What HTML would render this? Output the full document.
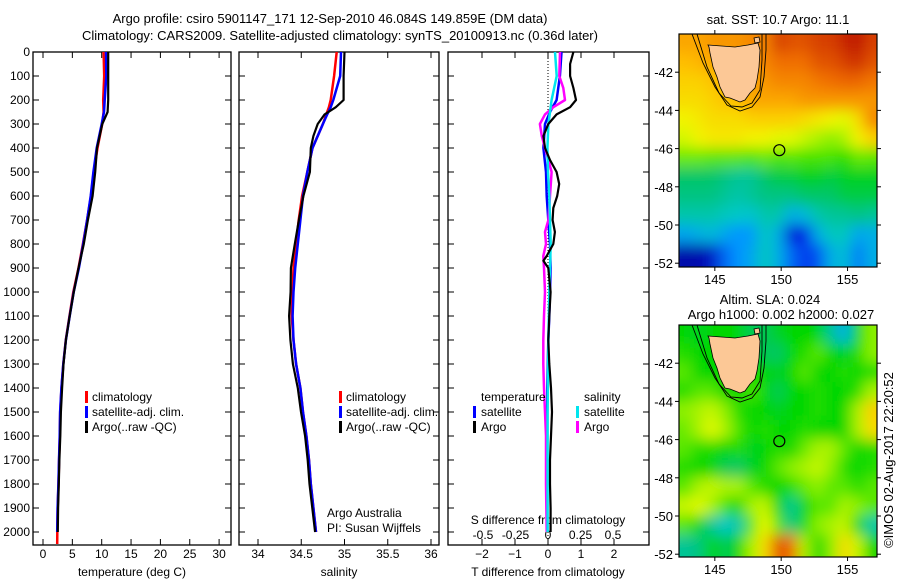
<!DOCTYPE html>
<html><head><meta charset="utf-8"><style>
html,body{margin:0;padding:0;background:#fff;width:900px;height:580px;overflow:hidden}
svg{display:block;font-family:"Liberation Sans",sans-serif;overflow:hidden}
</style></head><body>
<svg id="c" width="900" height="580" viewBox="0 0 900 580" xmlns="http://www.w3.org/2000/svg">
<defs>
<filter id="bl" filterUnits="userSpaceOnUse" x="640" y="0" width="260" height="580"><feGaussianBlur stdDeviation="7"/></filter>
<clipPath id="cm1"><rect x="679" y="34" width="198" height="233"/></clipPath>
<clipPath id="cm2"><rect x="679" y="325" width="198" height="232"/></clipPath>
</defs>
<text x="330" y="23" font-size="13" text-anchor="middle">Argo profile: csiro 5901147_171 12-Sep-2010 46.084S 149.859E (DM data)</text>
<text x="340" y="40" font-size="13" text-anchor="middle">Climatology: CARS2009. Satellite-adjusted climatology: synTS_20100913.nc (0.36d later)</text>
<g id="g"></g>
</svg>
<script>
// ---------- data ----------
const depthTicks=[0,100,200,300,400,500,600,700,800,900,1000,1100,1200,1300,1400,1500,1600,1700,1800,1900,2000];
const tempTicks=[0,5,10,15,20,25,30];
const salTicks=[34,34.5,35,35.5,36];
const salTickLabels=["34","34.5","35","35.5","36"];
const tdTicks=[-2,-1,0,1,2];
const sdTicks=[-0.5,-0.25,0,0.25,0.5];
const sdTickLabels=["-0.5","-0.25","0","0.25","0.5"];

const tDepth=[0,100,200,250,300,400,500,600,700,800,900,1000,1100,1200,1300,1400,1500,1600,1700,1800,1900,2000];
const tArgo=[11.1,11.1,11.1,11.0,10.1,9.2,8.9,8.45,7.65,6.95,6.05,5.25,4.55,3.9,3.5,3.25,3.05,2.95,2.8,2.7,2.58,2.52];
const tClimDepth=[0,100,200,250,300,400,500,600,700,800,900,1000,1100,1200,1300,1400,1500,1600,1700,1800,1900,2000,2050];
const tClim=[10.33,10.43,10.25,10.33,10.09,9.29,8.64,8.17,7.51,6.79,6.04,5.17,4.51,3.89,3.46,3.16,2.93,2.86,2.74,2.64,2.5,2.44,2.42];
const tSat=[10.74,10.79,10.51,10.39,10.0,9.15,8.58,8.13,7.52,6.85,6.12,5.23,4.55,3.9,3.45,3.14,2.91,2.84,2.72,2.62,2.48,2.42];

const sDepth=[0,100,200,230,260,300,350,400,500,600,700,800,900,1000,1100,1200,1300,1400,1500,1600,1700,1800,1900,2000];
const sClim=[34.91,34.88,34.84,34.82,34.79,34.75,34.69,34.63,34.57,34.51,34.47,34.44,34.41,34.40,34.39,34.41,34.44,34.49,34.52,34.56,34.59,34.61,34.64,34.67];
const sArgo=[35.0,34.99,34.99,34.9,34.77,34.69,34.64,34.61,34.6,34.525,34.473,34.425,34.38,34.377,34.36,34.374,34.404,34.46,34.497,34.545,34.575,34.595,34.628,34.66];
const sSat=[34.96,34.95,34.87,34.84,34.8,34.75,34.69,34.63,34.57,34.52,34.49,34.46,34.43,34.41,34.4,34.41,34.44,34.49,34.52,34.56,34.59,34.61,34.64,34.67];

const dArgoTDepth=[0,50,100,150,200,230,260,300,350,400,450,500,550,600,650,700,750,800,850,870,900,1000,1100,1200,1300,1400,1500,1600,1700,1800,1900,2000];
const dArgoT=[0.77,0.67,0.67,0.77,0.85,0.67,0.26,0.01,-0.14,-0.09,0.06,0.26,0.34,0.28,0.16,0.14,0.21,0.16,-0.04,-0.14,0.01,0.08,0.04,0.01,0.04,0.09,0.12,0.09,0.06,0.06,0.08,0.08];
const dSatTDepth=[0,100,200,250,300,400,500,600,700,800,900,1000,1100,1200,1400,1600,2000];
const dSatT=[0.41,0.36,0.26,0.06,-0.09,-0.14,-0.06,-0.04,0.01,0.06,0.08,0.06,0.04,0.01,-0.02,-0.02,-0.02];
const dArgoSDepth=[0,100,150,200,230,260,300,350,400,450,500,600,700,750,800,850,900,1000,1100,1200,1300,1400,1500,1600,1800,2000];
const dArgoS=[0.092,0.087,0.118,0.131,0.041,-0.023,-0.062,-0.048,-0.023,0.003,0.028,0.015,0.003,-0.023,-0.015,-0.036,-0.031,-0.023,-0.031,-0.036,-0.036,-0.031,-0.023,-0.015,-0.015,-0.01];
const dSatSDepth=[0,100,200,250,300,400,500,600,700,800,900,1000,1200,1500,2000];
const dSatS=[0.054,0.067,0.028,0.015,0.003,-0.005,0,0.01,0.015,0.021,0.015,0.01,0.003,-0.003,-0.003];

const lonTicks=[145,150,155];
const latTicks=[-42,-44,-46,-48,-50,-52];
const sstGrid=[
[.78,.78,.8,.8,.8,.82,.82,.9,.88,.88,.9,.9,.93,.95,.9],
[.75,.76,.78,.78,.8,.8,.82,.85,.85,.85,.88,.88,.9,.92,.88],
[.72,.72,.74,.76,.78,.78,.8,.82,.82,.82,.84,.85,.86,.86,.84],
[.7,.7,.72,.74,.75,.78,.78,.78,.78,.8,.8,.8,.8,.8,.8],
[.66,.68,.7,.7,.7,.72,.72,.72,.72,.7,.68,.66,.64,.7,.82],
[.63,.66,.68,.68,.68,.66,.66,.64,.64,.62,.6,.58,.6,.66,.72],
[.56,.56,.55,.55,.55,.54,.56,.54,.55,.54,.54,.54,.52,.56,.55],
[.44,.44,.44,.42,.4,.4,.44,.46,.46,.48,.48,.46,.48,.48,.48],
[.42,.42,.42,.4,.38,.4,.42,.42,.42,.44,.44,.44,.46,.46,.46],
[.38,.38,.38,.36,.35,.34,.38,.38,.3,.32,.38,.4,.4,.42,.4],
[.28,.3,.32,.28,.25,.26,.36,.3,.1,.12,.3,.36,.36,.28,.3],
[.05,.05,.08,.2,.25,.28,.36,.3,.2,.15,.18,.3,.33,.22,.3]];
const slaGrid=[
[.5,.48,.5,.5,.5,.45,.45,.48,.5,.5,.5,.4,.3,.5,.58],
[.52,.5,.5,.5,.5,.48,.45,.44,.5,.52,.55,.5,.48,.52,.58],
[.55,.5,.5,.5,.5,.52,.5,.48,.5,.55,.5,.5,.52,.5,.52],
[.52,.55,.55,.5,.5,.54,.5,.45,.5,.5,.52,.5,.5,.52,.6],
[.58,.6,.62,.58,.52,.5,.5,.48,.5,.5,.52,.5,.5,.6,.72],
[.56,.6,.64,.6,.54,.5,.52,.5,.5,.52,.5,.5,.5,.6,.7],
[.55,.52,.52,.5,.52,.48,.5,.52,.5,.56,.6,.6,.55,.5,.52],
[.52,.5,.5,.45,.44,.48,.5,.55,.58,.6,.62,.58,.52,.5,.52],
[.55,.6,.62,.6,.6,.55,.52,.5,.52,.56,.58,.55,.55,.52,.55],
[.62,.64,.6,.54,.5,.6,.62,.5,.4,.5,.55,.55,.6,.58,.55],
[.55,.5,.4,.35,.38,.55,.65,.55,.42,.52,.58,.6,.62,.5,.38],
[.4,.42,.5,.45,.5,.6,.7,.88,.85,.6,.5,.58,.7,.62,.5]];
const argoLon=149.859, argoLat=-46.084;

// ---------- helpers ----------
const NS="http://www.w3.org/2000/svg";
const G=document.getElementById('g');
function el(tag,attrs,parent){const e=document.createElementNS(NS,tag);for(const k in attrs)e.setAttribute(k,attrs[k]);(parent||G).appendChild(e);return e;}
function txt(x,y,s,size,anchor,parent){const t=el('text',{x:x,y:y,'font-size':size||12,'text-anchor':anchor||'middle'},parent);t.textContent=s;return t;}
const yD=d=>52+d*0.24;
const xT=t=>43+t*5.87;
const xS=s=>258+(s-34)*86.5;
const xTd=v=>548+v*33;
const xSd=v=>548+v*130;
const TOP=52,BOT=545;

function frame(x0,x1,name){
  const r=el('rect',{x:x0,y:TOP,width:x1-x0,height:BOT-TOP,fill:'none',stroke:'#000','stroke-width':1.3});
  
  
  depthTicks.forEach(d=>{
    el('line',{x1:x0,x2:x0+6,y1:yD(d),y2:yD(d),stroke:'#000'});
    el('line',{x1:x1,x2:x1-6,y1:yD(d),y2:yD(d),stroke:'#000'});
  });
}
function xticks(vals,labels,fx,ylab,name){
  vals.forEach((v,i)=>{
    const x=fx(v);
    el('line',{x1:x,x2:x,y1:BOT,y2:BOT-6,stroke:'#000'});
    el('line',{x1:x,x2:x,y1:TOP,y2:TOP+6,stroke:'#000'});
    const t=txt(x,ylab,labels[i],12);
    
    
  });
}
function line(xs,ds,fx,color,w,name){
  const pts=xs.map((v,i)=>fx(v).toFixed(1)+','+yD(ds[i]).toFixed(1)).join(' ');
  const p=el('polyline',{points:pts,fill:'none',stroke:color,'stroke-width':w||2.5,'stroke-linejoin':'round'});
  
  
}
function legendEntry(bx,tx,y,color,label,name){
  el('rect',{x:bx-1,y:y-10,width:3,height:12,fill:color});
  const t=txt(tx,y,label,12,'start');
  
  
}

depthTicks.forEach(d=>{const t=txt(30,yD(d)+4,String(d),12,'end');
  
  });

// ---- panel 1: temperature
frame(33,231,'temperature-panel');
xticks(tempTicks,tempTicks.map(String),xT,558,'temperature-tick-label');
let t=txt(132,576,'temperature (deg C)',12);


line(tClim,tClimDepth,xT,'#ff0000',2.5,'temp-climatology-line');
line(tSat,tDepth,xT,'#0000ff',2.5,'temp-satellite-line');
line(tArgo,tDepth,xT,'#000',2.2,'temp-argo-line');
legendEntry(86,92,401,'#ff0000','climatology','legend-climatology');
legendEntry(86,92,416,'#0000ff','satellite-adj. clim.','legend-satellite');
legendEntry(86,92,431,'#000','Argo(..raw -QC)','legend-argo');

// ---- panel 2: salinity
frame(239,439,'salinity-panel');
xticks(salTicks,salTickLabels,xS,558,'salinity-tick-label');
t=txt(339,576,'salinity',12);


line(sClim,sDepth,xS,'#ff0000',2.5,'sal-climatology-line');
line(sSat,sDepth,xS,'#0000ff',2.5,'sal-satellite-line');
line(sArgo,sDepth,xS,'#000',2.2,'sal-argo-line');
legendEntry(340,346,401,'#ff0000','climatology','legend-climatology');
legendEntry(340,346,416,'#0000ff','satellite-adj. clim.','legend-satellite');
legendEntry(340,346,431,'#000','Argo(..raw -QC)','legend-argo');
t=txt(327,517,'Argo Australia',12,'start');


t=txt(327,532,'PI: Susan Wijffels',12,'start');



// ---- panel 3: differences
frame(448,649,'difference-panel');
tdTicks.forEach(v=>{const x=xTd(v);
  el('line',{x1:x,x2:x,y1:BOT,y2:BOT-6,stroke:'#000'});
  el('line',{x1:x,x2:x,y1:TOP,y2:TOP+6,stroke:'#000'});
  const tt=txt(x,558,String(v).replace('-','\u2212'),12);
  
  });
sdTicks.forEach((v,i)=>{const tt=txt(xSd(v),539,sdTickLabels[i],12);
  
  });
t=txt(548,524,'S difference from climatology',12);


t=txt(548,576,'T difference from climatology',12);


el('line',{x1:548,x2:548,y1:TOP,y2:BOT,stroke:'#000','stroke-dasharray':'1,2','stroke-width':1});
line(dSatT,dSatTDepth,xTd,'#0000ff',2.5,'tdiff-satellite-line');
line(dArgoS,dArgoSDepth,xSd,'#ff00ff',2.5,'sdiff-argo-line');
line(dSatS,dSatSDepth,xSd,'#00e5ee',2.5,'sdiff-satellite-line');
line(dArgoT,dArgoTDepth,xTd,'#000',2.2,'tdiff-argo-line');
t=txt(481,401,'temperature',12,'start');


t=txt(584,401,'salinity',12,'start');


legendEntry(474,481,416,'#0000ff','satellite','legend-t-satellite');
legendEntry(474,481,431,'#000','Argo','legend-t-argo');
legendEntry(577,584,416,'#00e5ee','satellite','legend-s-satellite');
legendEntry(577,584,431,'#ff00ff','Argo','legend-s-argo');

// ---- maps
const stops=[[0,[0,0,130]],[0.12,[0,30,230]],[0.25,[0,150,255]],[0.35,[0,200,200]],[0.43,[0,195,120]],[0.5,[0,215,0]],[0.58,[140,240,0]],[0.65,[240,250,0]],[0.75,[255,190,0]],[0.85,[240,110,0]],[0.95,[190,20,0]],[1,[150,0,0]]];
function cmap(v){for(let i=1;i<stops.length;i++){if(v<=stops[i][0]){const a=stops[i-1],b=stops[i];const f=(v-a[0])/(b[0]-a[0]);const c=a[1].map((x,k)=>Math.round(x+(b[1][k]-x)*f));return 'rgb('+c+')';}}return 'rgb(150,0,0)';}
function map(grid,y0,y1,clip,name){
  const lon0=142.3, lat0=-40.0, px=13.27, py=19.1;
  const xL=l=>679+(l-lon0)*px, yL=l=>y0+(lat0-l)*py;
  const grp=el('g',{'clip-path':'url(#'+clip+')'});
  
  
  const inner=el('g',{filter:'url(#bl)'},grp);
  for(let j=-1;j<=12;j++)for(let i=-1;i<=15;i++){
    const r=Math.min(Math.max(j,0),grid.length-1), c=Math.min(Math.max(i,0),grid[0].length-1);
    const cell=el('rect',{x:xL(lon0+i)-0.5,y:yL(lat0-j)-0.5,width:px+1,height:py+1,fill:cmap(grid[r][c])},inner);
    
    
  }
  const dy=y0-34;
  const land=[[708,45],[735,47],[748,45],[758,43],[760,50],[759,67],[757,80],[755,88],[750,93],[745,100],[740,102],[730,98],[725,97],[720,87],[717,77],[713,67],[710,53],[709,47]];
  const lp=el('polygon',{points:land.map(p=>p[0]+','+(p[1]+dy)).join(' '),fill:'#fcc896',stroke:'#000','stroke-width':0.8},grp);
  
  
  el('polygon',{points:'754,38 759,37 760,42 755,43',fill:'#fcc896',stroke:'#000','stroke-width':0.8,transform:'translate(0,'+dy+')'},grp);
  const c1=[[692,34],[703,63],[715,87],[727,105],[740,111],[752,107],[760,97],[764,77],[766,50],[766,34]];
  el('polyline',{points:c1.map(p=>p[0]+','+(p[1]+dy)).join(' '),fill:'none',stroke:'#000','stroke-width':0.9},grp);
  const c2=[[697,34],[707,67],[719,93],[731,106],[742,107],[752,103],[760,90],[762,60],[762,34]];
  el('polyline',{points:c2.map(p=>p[0]+','+(p[1]+dy)).join(' '),fill:'none',stroke:'#000','stroke-width':0.9},grp);
  const m=el('circle',{cx:xL(argoLon),cy:yL(argoLat),r:5.5,fill:'none',stroke:'#000','stroke-width':1.2});
  
  
  el('rect',{x:679,y:y0,width:198,height:y1-y0,fill:'none',stroke:'#000','stroke-width':1.2});
  lonTicks.forEach(l=>{const x=xL(l);
    el('line',{x1:x,x2:x,y1:y1,y2:y1+4,stroke:'#000'});
    el('line',{x1:x,x2:x,y1:y0,y2:y0-4,stroke:'#000'});
    const tt=txt(x,y1+17,String(l),13);
    
    });
  latTicks.forEach(l=>{const y=yL(l);
    el('line',{x1:679,x2:675,y1:y,y2:y,stroke:'#000'});
    el('line',{x1:877,x2:881,y1:y,y2:y,stroke:'#000'});
    const tt=txt(673,y+5,String(l),13,'end');
    
    });
}
map(sstGrid,34,267,'cm1','sst-map');
map(slaGrid,325,557,'cm2','sla-map');
t=txt(778,24,'sat. SST: 10.7 Argo: 11.1',13);


t=txt(770,304,'Altim. SLA: 0.024',13);


t=txt(781,319,'Argo h1000: 0.002 h2000: 0.027',13);


t=txt(0,0,'\u00a9IMOS 02-Aug-2017 22:20:52',13);
t.setAttribute('transform','translate(893,460) rotate(-90)');


</script>
</body></html>
